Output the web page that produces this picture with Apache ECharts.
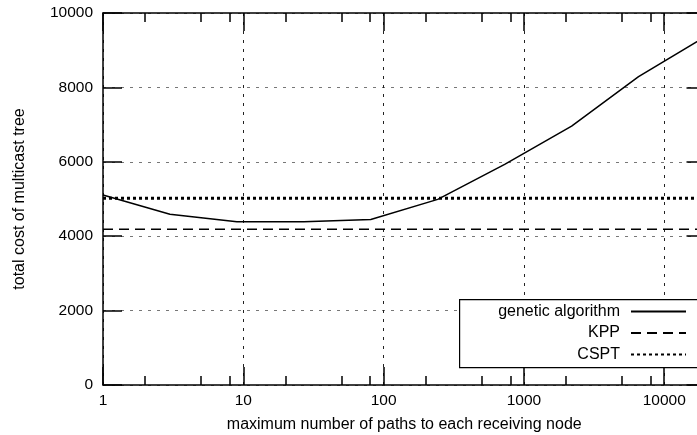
<!DOCTYPE html>
<html><head><meta charset="utf-8">
<script src="https://cdn.jsdelivr.net/npm/echarts@6/dist/echarts.min.js"></script>
<style>html,body{margin:0;padding:0;background:#fff}#c{width:697px;height:435px}</style>
</head><body><div id="c"></div>
<script>
// ---- data ----
const paths = [1, 3, 9, 27, 81, 243, 729, 2187, 6561, 19683];
const geneticAlgorithm = [5110, 4590, 4390, 4390, 4450, 4990, 5930, 6960, 8290, 9370];
const kpp = [4190, 4190, 4190, 4190, 4190, 4190, 4190, 4190, 4190, 4190];
const cspt = [5020, 5020, 5020, 5020, 5020, 5020, 5020, 5020, 5020, 5020];
const xMajorTicks = [1, 10, 100, 1000, 10000];
const xMinorTicks = [2, 5, 8, 20, 50, 80, 200, 500, 800, 2000, 5000, 8000];
const yTicks = [0, 2000, 4000, 6000, 8000, 10000];
const seriesNames = ['genetic algorithm', 'KPP', 'CSPT'];

const FONT = 'Liberation Sans, Arial, Helvetica, sans-serif';
const pair = vals => paths.map((p, i) => [p, vals[i]]);
const plain = v => String(v);

const xBase = {
  type: 'log', logBase: 10, min: paths[0], max: paths[paths.length - 1],
  gridIndex: 0
};
const chart = echarts.init(document.getElementById('c'), null, {renderer: 'canvas'});
chart.setOption({
  animation: false,
  backgroundColor: '#fff',
  textStyle: {fontFamily: FONT},
  grid: {left: 103, top: 13, width: 602.5, height: 372, containLabel: false, outerBoundsMode: 'none'},
  xAxis: [
    Object.assign({}, xBase, {
      position: 'bottom',
      name: 'maximum number of paths to each receiving node',
      nameLocation: 'middle', nameGap: 31.5,
      nameTextStyle: {fontSize: 16, color: '#000', fontFamily: FONT},
      axisLine: {show: true, lineStyle: {color: '#000', width: 1.5}},
      axisTick: {show: true, inside: true, length: 18, customValues: xMajorTicks, lineStyle: {color: '#000', width: 1.5}},
      axisLabel: {fontSize: 15.5, color: '#000', margin: 8, fontFamily: FONT, customValues: xMajorTicks, formatter: plain},
      splitLine: {show: true, lineStyle: {color: '#222', width: 1, type: [3, 6]}}
    }),
    Object.assign({}, xBase, {
      position: 'bottom',
      axisLine: {show: false},
      axisTick: {show: true, inside: true, length: 9, customValues: xMinorTicks, lineStyle: {color: '#000', width: 1.5}},
      axisLabel: {show: false},
      splitLine: {show: false}
    }),
    Object.assign({}, xBase, {
      position: 'top',
      axisLine: {show: true, lineStyle: {color: '#000', width: 1.5}},
      axisTick: {show: true, inside: true, length: 18, customValues: xMajorTicks, lineStyle: {color: '#000', width: 1.5}},
      axisLabel: {show: false},
      splitLine: {show: false}
    }),
    Object.assign({}, xBase, {
      position: 'top',
      axisLine: {show: false},
      axisTick: {show: true, inside: true, length: 9, customValues: xMinorTicks, lineStyle: {color: '#000', width: 1.5}},
      axisLabel: {show: false},
      splitLine: {show: false}
    })
  ],
  yAxis: [
    {
      type: 'value', min: 0, max: 10000, interval: 2000, position: 'left',
      name: 'total cost of multicast tree', nameLocation: 'middle', nameGap: 75,
      nameTextStyle: {fontSize: 16, color: '#000', fontFamily: FONT},
      axisLine: {show: true, lineStyle: {color: '#000', width: 1.5}},
      axisTick: {show: true, inside: true, length: 19, lineStyle: {color: '#000', width: 1.5}},
      axisLabel: {fontSize: 15.5, color: '#000', margin: 10, fontFamily: FONT, customValues: yTicks, formatter: plain},
      splitLine: {show: true, lineStyle: {color: '#777', width: 1, type: [3, 6]}}
    },
    {
      type: 'value', min: 0, max: 10000, interval: 2000, position: 'right',
      axisLine: {show: true, lineStyle: {color: '#000', width: 1.5}},
      axisTick: {show: true, inside: true, length: 19, lineStyle: {color: '#000', width: 1.5}},
      axisLabel: {show: false},
      splitLine: {show: false}
    }
  ],
  graphic: [
    {type: 'rect', left: 459, top: 299, z: 3, silent: true,
     shape: {width: 270, height: 68},
     style: {fill: '#fff', stroke: '#000', lineWidth: 1.2}}
  ],
  legend: {
    orient: 'vertical', left: 459, top: 299, align: 'right',
    itemWidth: 55, itemHeight: 14, itemGap: 5.5,
    padding: [4.5, 10, 4.5, 5],
    borderWidth: 0, backgroundColor: 'transparent',
    itemStyle: {opacity: 0, borderWidth: 0},
    textStyle: {fontSize: 16, color: '#000', fontFamily: FONT, width: 156, align: 'right', lineHeight: 16, padding: [0, 6, 0, 0]},
    data: seriesNames
  },
  series: [
    {name: seriesNames[0], type: 'line', data: pair(geneticAlgorithm), symbol: 'none',
     lineStyle: {color: '#000', width: 1.5, type: 'solid'}, itemStyle: {color: '#000'}},
    {name: seriesNames[1], type: 'line', data: pair(kpp), symbol: 'none',
     lineStyle: {color: '#000', width: 1.5, type: [10, 6]}, itemStyle: {color: '#000'}},
    {name: seriesNames[2], type: 'line', data: pair(cspt), symbol: 'none',
     lineStyle: {color: '#000', width: 3, type: [3, 3]}, itemStyle: {color: '#000'}}
  ]
});
</script></body></html>
